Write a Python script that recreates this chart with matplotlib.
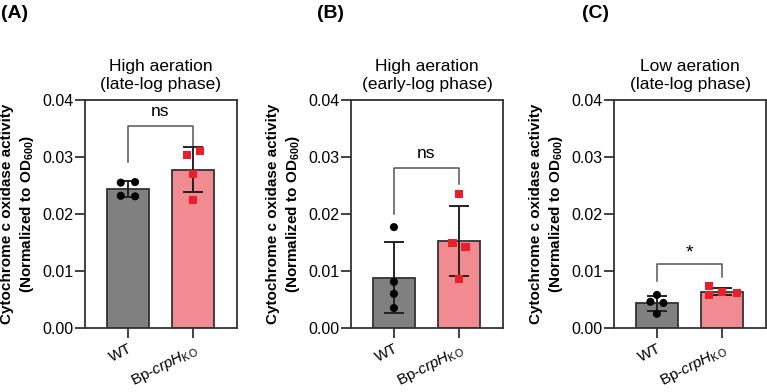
import numpy as np
import matplotlib.pyplot as plt

plt.rcParams['font.family'] = ['Liberation Sans', 'DejaVu Sans']
plt.rcParams['mathtext.fontset'] = 'custom'
plt.rcParams['mathtext.rm'] = 'Liberation Sans'
plt.rcParams['mathtext.it'] = 'Liberation Sans:italic'
plt.rcParams['mathtext.bf'] = 'Liberation Sans:bold'

# data
groups = ["WT", r"Bp-$\mathit{crpH}_\mathrm{KO}$"]
panel_letters = ["(A)", "(B)", "(C)"]
titles = ["High aeration\n(late-log phase)",
          "High aeration\n(early-log phase)",
          "Low aeration\n(late-log phase)"]

wt_a = [0.0255, 0.0256, 0.0232, 0.0231]
ko_a = [0.0304, 0.0311, 0.0270, 0.0225]
wt_b = [0.0177, 0.0081, 0.0060, 0.0035]
ko_b = [0.0235, 0.0149, 0.0142, 0.0086]
wt_c = [0.0058, 0.0046, 0.0044, 0.0025]
ko_c = [0.0074, 0.0058, 0.0063, 0.0061]

# point spread (x offset around the bar centre)
jit_wt_a = [-0.11, 0.11, -0.11, 0.11]
jit_ko_a = [-0.09, 0.11, 0.0, 0.0]
jit_wt_b = [0.0, 0.0, 0.0, 0.0]
jit_ko_b = [0.0, -0.1, 0.1, 0.0]
jit_wt_c = [0.0, -0.1, 0.1, 0.0]
jit_ko_c = [-0.2, -0.2, 0.0, 0.23]

sig_labels = ["ns", "ns", "*"]
# bracket: top, left leg end, right leg end, label y
brackets = [(0.0354, 0.0291, 0.0318, 0.0380),
            (0.0281, 0.0200, 0.0252, 0.0307),
            (0.0112, 0.0082, 0.0089, 0.0131)]

wt_color = "#808080"
ko_color = "#f28a92"
ko_point = "#e8202a"

fig = plt.figure(figsize=(7.67, 3.92), dpi=100)
lefts = [85, 351, 614]
axes = [fig.add_axes([l / 767, 64 / 392, 152 / 767, 228 / 392]) for l in lefts]

panels = [(wt_a, ko_a, jit_wt_a, jit_ko_a),
          (wt_b, ko_b, jit_wt_b, jit_ko_b),
          (wt_c, ko_c, jit_wt_c, jit_ko_c)]

for i, (ax, (wt, ko, jw, jk)) in enumerate(zip(axes, panels)):
    for x, vals, jit, col, pcol, mk in [(0, wt, jw, wt_color, "black", "o"),
                                         (1, ko, jk, ko_color, ko_point, "s")]:
        vals = np.array(vals)
        m = vals.mean()
        sd = vals.std(ddof=1)
        ax.bar(x, m, width=0.65, color=col, edgecolor="#333333", linewidth=1.3, zorder=1)
        ax.errorbar(x, m, yerr=sd, color="#222222", capsize=7.5, elinewidth=1.4,
                    capthick=1.4, zorder=3)
        ax.scatter(x + np.array(jit), vals, marker=mk, s=34, color=pcol,
                   edgecolors="none", zorder=4)

    top, l_end, r_end, ly = brackets[i]
    ax.plot([0, 0, 1, 1], [l_end, top, top, r_end], color="#555555", lw=1.1, zorder=2)
    ax.text(0.5, ly, sig_labels[i], ha="center", va="center",
            fontsize=14 if sig_labels[i] == "*" else 12.5)

    ax.set_xlim(-0.66, 1.677)
    ax.set_ylim(0, 0.04)
    ax.set_yticks([0, 0.01, 0.02, 0.03, 0.04])
    ax.set_yticklabels(["0.00", "0.01", "0.02", "0.03", "0.04"], fontsize=11.5)
    ax.set_xticks([0, 1])
    ax.set_xticklabels(groups, rotation=27, ha="right", va="top",
                       rotation_mode="anchor", fontsize=11)
    ax.tick_params(axis="both", length=7, width=1.3, color="#333333")
    ax.tick_params(axis="y", pad=1.5)
    ax.tick_params(axis="x", pad=3)
    for sp in ax.spines.values():
        sp.set_linewidth(1.3)
        sp.set_color("#333333")
    ax.set_title(titles[i], fontsize=12.5, pad=8, linespacing=1.2)
    ax.set_ylabel("Cytochrome c oxidase activity\n(Normalized to OD$_{\\bf 600}$)",
                  fontsize=11, fontweight="bold", labelpad=4, linespacing=1.3)

letter_x = [1, 317, 582]
for lx, lt in zip(letter_x, panel_letters):
    fig.text(lx / 767, 1 - 14 / 392, lt, fontsize=14, fontweight="bold",
             ha="left", va="center")

fig.savefig("out.png", dpi=100)
